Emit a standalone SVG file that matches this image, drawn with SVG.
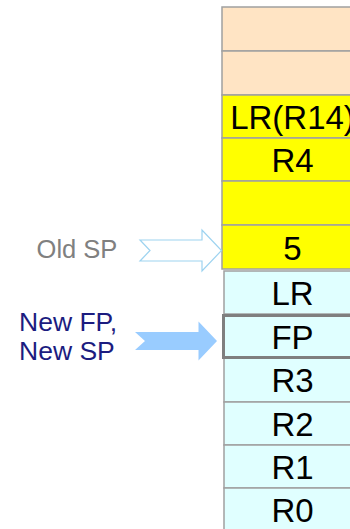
<svg xmlns="http://www.w3.org/2000/svg" width="350" height="529" viewBox="0 0 350 529">
<style>
.t{font-family:"Liberation Sans",Arial,sans-serif;font-size:33px;fill:#000;text-anchor:middle}
.peach{fill:#ffe4c4;stroke:#a0a0a0;stroke-width:1.5}
.yel{fill:#ffff00;stroke:#a0a0a0;stroke-width:1.5}
.cyan{fill:#e0ffff;stroke:#a0a0a0;stroke-width:1.5}
.lbl{font-family:"Liberation Sans",Arial,sans-serif}
</style>
<rect width="350" height="529" fill="#fff"/>
<g id="cell-top1"><rect class="peach" x="222" y="7" width="141" height="44"/></g>
<g id="cell-top2"><rect class="peach" x="222" y="51" width="141" height="44"/></g>
<g id="cell-lr14"><rect class="yel" x="222" y="95" width="141" height="43"/><text class="t" x="292.5" y="128.5">LR(R14)</text></g>
<g id="cell-r4"><rect class="yel" x="222" y="138" width="141" height="43"/><text class="t" x="292.5" y="171.5">R4</text></g>
<g id="cell-empty"><rect class="yel" x="222" y="181" width="141" height="44"/></g>
<g id="cell-5"><rect class="yel" x="222" y="225" width="141" height="44"/><text class="t" x="292.5" y="259.5">5</text></g>
<g id="cell-lr"><rect class="cyan" x="224" y="271" width="139" height="43"/><text class="t" x="292.5" y="304.5">LR</text></g>
<g id="cell-r3"><rect class="cyan" x="224" y="358" width="139" height="44"/><text class="t" x="292.5" y="392">R3</text></g>
<g id="cell-r2"><rect class="cyan" x="224" y="402" width="139" height="43"/><text class="t" x="292.5" y="435.5">R2</text></g>
<g id="cell-r1"><rect class="cyan" x="224" y="445" width="139" height="43"/><text class="t" x="292.5" y="478.5">R1</text></g>
<g id="cell-r0"><rect class="cyan" x="224" y="488" width="139" height="44"/><text class="t" x="292.5" y="522">R0</text></g>
<g id="cell-fp"><rect x="223.5" y="315.5" width="140" height="42" fill="#e0ffff" stroke="#7f7f7f" stroke-width="3"/><text class="t" x="292.5" y="348.5">FP</text></g>
<g id="label-old-sp"><text class="lbl" x="77" y="258" font-size="25.5" fill="#808080" text-anchor="middle">Old SP</text></g>
<g id="label-new-fp"><text class="lbl" x="19" y="331" font-size="26.5" fill="#1c1c80">New FP,</text><text class="lbl" x="19" y="360" font-size="26.5" fill="#1c1c80">New SP</text></g>
<g id="connectors">
<polygon points="140,240 150,250.5 140,261 202,261 202,271 221.5,250.5 202,230 202,240" fill="#fff" stroke="#9dd3f0" stroke-width="1.2"/>
<polygon points="135,332 145,341 135,350 198.5,350 198.5,360.5 217,341 198.5,321.5 198.5,332" fill="#99ccff"/>
</g>
</svg>
